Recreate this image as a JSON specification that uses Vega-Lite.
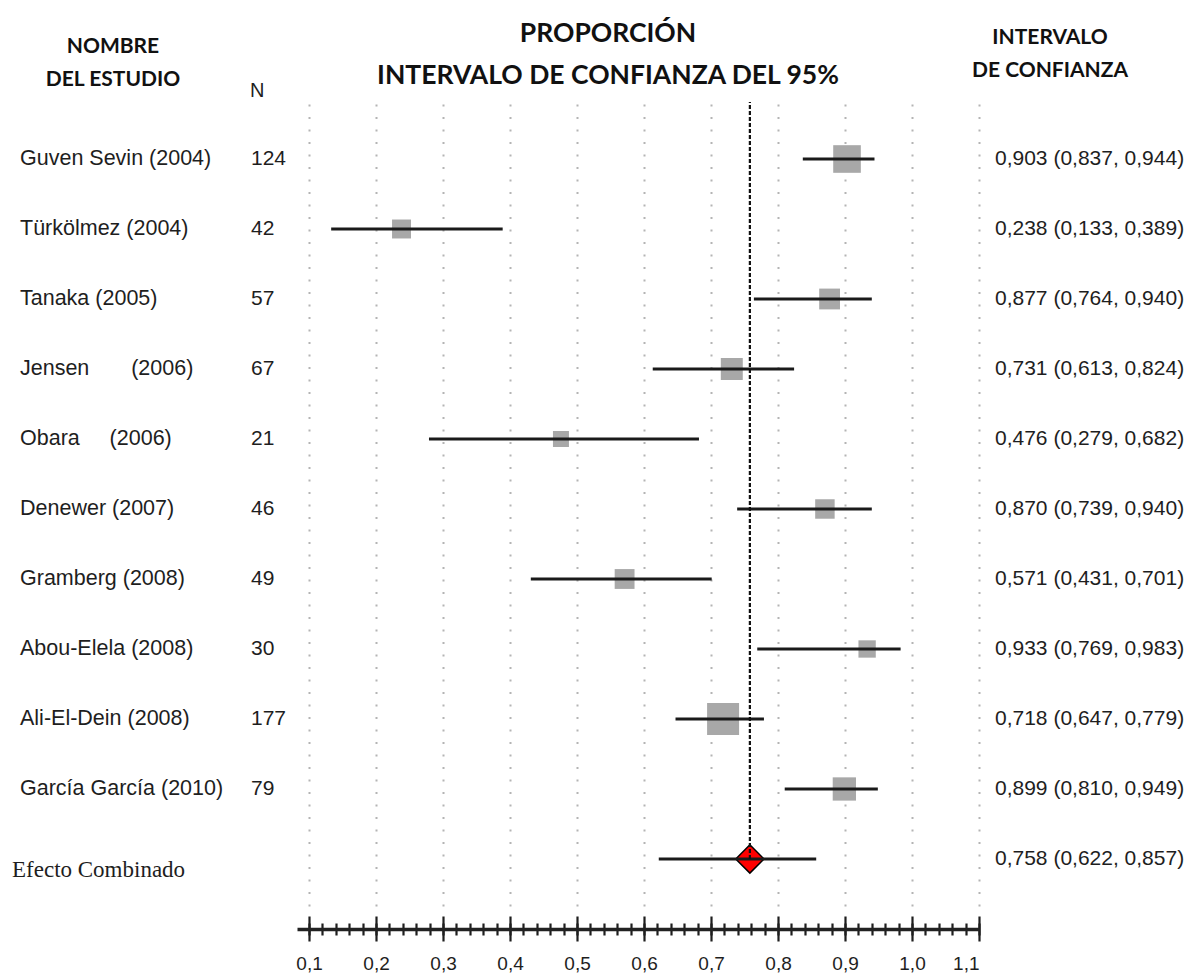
{
  "$schema": "https://vega.github.io/schema/vega-lite/v6.json",
  "padding": {"left": 0, "top": 21, "right": 0, "bottom": 0},
  "autosize": {"type": "pad"},
  "bounds": "flush",
  "spacing": 0,
  "config": {"view": {"stroke": null}, "concat": {"spacing": 0}},
  "datasets": {
    "forest": [
      {"study": "Guven Sevin (2004)", "N": 124, "p": 0.903, "lo": 0.837, "hi": 0.944, "ic": "0,903 (0,837, 0,944)", "tipo": "estudio"},
      {"study": "Türkölmez (2004)", "N": 42, "p": 0.238, "lo": 0.133, "hi": 0.389, "ic": "0,238 (0,133, 0,389)", "tipo": "estudio"},
      {"study": "Tanaka (2005)", "N": 57, "p": 0.877, "lo": 0.764, "hi": 0.940, "ic": "0,877 (0,764, 0,940)", "tipo": "estudio"},
      {"study": "Jensen\u00a0\u00a0\u00a0\u00a0\u00a0\u00a0 (2006)", "N": 67, "p": 0.731, "lo": 0.613, "hi": 0.824, "ic": "0,731 (0,613, 0,824)", "tipo": "estudio"},
      {"study": "Obara\u00a0\u00a0\u00a0\u00a0 (2006)", "N": 21, "p": 0.476, "lo": 0.279, "hi": 0.682, "ic": "0,476 (0,279, 0,682)", "tipo": "estudio"},
      {"study": "Denewer (2007)", "N": 46, "p": 0.870, "lo": 0.739, "hi": 0.940, "ic": "0,870 (0,739, 0,940)", "tipo": "estudio"},
      {"study": "Gramberg (2008)", "N": 49, "p": 0.571, "lo": 0.431, "hi": 0.701, "ic": "0,571 (0,431, 0,701)", "tipo": "estudio"},
      {"study": "Abou-Elela (2008)", "N": 30, "p": 0.933, "lo": 0.769, "hi": 0.983, "ic": "0,933 (0,769, 0,983)", "tipo": "estudio"},
      {"study": "Ali-El-Dein (2008)", "N": 177, "p": 0.718, "lo": 0.647, "hi": 0.779, "ic": "0,718 (0,647, 0,779)", "tipo": "estudio"},
      {"study": "García García (2010)", "N": 79, "p": 0.899, "lo": 0.810, "hi": 0.949, "ic": "0,899 (0,810, 0,949)", "tipo": "estudio"},
      {"study": "Efecto Combinado", "N": null, "p": 0.758, "lo": 0.622, "hi": 0.857, "ic": "0,758 (0,622, 0,857)", "tipo": "combinado"}
    ]
  },
  "data": {"name": "forest"},
  "resolve": {"scale": {"x": "independent", "y": "shared"}},
  "hconcat": [
    {
      "width": 245,
      "height": 804,
      "title": {"text": ["NOMBRE", "DEL ESTUDIO"], "font": "Lato", "fontSize": 21, "fontWeight": "bold", "lineHeight": 33, "offset": 12, "anchor": "middle", "frame": "group", "dx": -9.5, "color": "#111111"},
      "layer": [
        {
          "transform": [{"filter": "datum.tipo == 'estudio'"}],
          "mark": {"type": "text", "align": "left", "baseline": "middle", "font": "Liberation Sans", "fontSize": 21.5, "color": "#1e1e1e"},
          "encoding": {
            "x": {"datum": "nombre", "type": "nominal", "scale": {"type": "point", "domain": ["nombre"], "range": [20, 20]}, "axis": null},
            "y": {"field": "study", "type": "nominal", "scale": {"type": "point", "domain": ["Guven Sevin (2004)", "Türkölmez (2004)", "Tanaka (2005)", "Jensen\u00a0\u00a0\u00a0\u00a0\u00a0\u00a0 (2006)", "Obara\u00a0\u00a0\u00a0\u00a0 (2006)", "Denewer (2007)", "Gramberg (2008)", "Abou-Elela (2008)", "Ali-El-Dein (2008)", "García García (2010)", "Efecto Combinado"], "padding": 0.743, "align": 0.548}, "axis": null},
            "text": {"field": "study"}
          }
        },
        {
          "transform": [{"filter": "datum.tipo == 'combinado'"}],
          "mark": {"type": "text", "align": "left", "baseline": "middle", "font": "Liberation Serif", "fontSize": 23, "color": "#1e1e1e", "dx": -8, "dy": 11},
          "encoding": {
            "x": {"datum": "nombre", "type": "nominal", "scale": {"type": "point", "domain": ["nombre"], "range": [20, 20]}, "axis": null},
            "y": {"field": "study", "type": "nominal", "axis": null},
            "text": {"field": "study"}
          }
        }
      ]
    },
    {
      "width": 52,
      "height": 804,
      "title": {"text": "N", "font": "Liberation Sans", "fontSize": 20, "fontWeight": "normal", "offset": 1, "anchor": "start", "frame": "group", "dx": 5, "color": "#1e1e1e"},
      "transform": [{"filter": "datum.tipo == 'estudio'"}],
      "mark": {"type": "text", "align": "left", "baseline": "middle", "font": "Liberation Sans", "fontSize": 21, "color": "#1e1e1e"},
      "encoding": {
        "x": {"datum": "n", "type": "nominal", "scale": {"type": "point", "domain": ["n"], "range": [6, 6]}, "axis": null},
        "y": {"field": "study", "type": "nominal", "axis": null},
        "text": {"field": "N", "type": "quantitative"}
      }
    },
    {
      "width": 682,
      "height": 804,
      "title": {"text": ["PROPORCIÓN", "INTERVALO DE CONFIANZA DEL 95%"], "font": "Lato", "fontSize": 26.5, "fontWeight": "bold", "lineHeight": 42, "offset": 11, "anchor": "middle", "frame": "group", "dx": -30, "color": "#111111"},
      "resolve": {"axis": {"x": "independent"}},
      "layer": [
        {
          "transform": [{"filter": "datum.tipo == 'estudio'"}],
          "mark": {"type": "square", "filled": true, "color": "#a8a8a8", "opacity": 1},
          "encoding": {
            "x": {"field": "p", "type": "quantitative", "scale": {"domain": [0.082, 1.1], "nice": false, "zero": false},
              "axis": {"orient": "bottom", "values": [0.1, 0.2, 0.3, 0.4, 0.5, 0.6, 0.7, 0.8, 0.9, 1.0, 1.1], "grid": true, "gridDash": [2, 10.5], "gridColor": "#b4b4b4", "gridWidth": 2, "domain": false, "ticks": false, "labels": false, "title": null}},
            "y": {"field": "study", "type": "nominal", "axis": null},
            "size": {"field": "N", "type": "quantitative", "scale": {"domain": [21, 177], "range": [256, 1024]}, "legend": null}
          }
        },
        {
          "transform": [{"filter": "datum.tipo == 'estudio'"}],
          "mark": {"type": "rule", "strokeWidth": 2.8, "color": "#1a1a1a"},
          "encoding": {
            "x": {"field": "lo", "type": "quantitative",
              "axis": {"orient": "bottom", "values": [0.1, 0.2, 0.3, 0.4, 0.5, 0.6, 0.7, 0.8, 0.9, 1.0, 1.1], "grid": false, "domain": false, "ticks": true, "tickSize": 25, "tickWidth": 2.2, "tickColor": "#1e1e1e", "offset": 10, "labels": true, "labelFont": "Liberation Sans", "labelFontSize": 19, "labelColor": "#1e1e1e", "labelPadding": 13, "labelExpr": "replace(format(datum.value, '.1f'), '.', ',')", "title": null}},
            "x2": {"field": "hi"},
            "y": {"field": "study", "type": "nominal", "axis": null}
          }
        },
        {
          "transform": [{"filter": "datum.tipo == 'combinado'"}],
          "mark": {"type": "point", "shape": "diamond", "filled": true, "fill": "#ff0000", "stroke": "#000000", "strokeWidth": 1.5, "size": 800, "opacity": 1},
          "encoding": {
            "x": {"field": "p", "type": "quantitative",
              "axis": {"orient": "bottom", "values": [0.1, 0.12, 0.14, 0.16, 0.18, 0.2, 0.22, 0.24, 0.26, 0.28, 0.3, 0.32, 0.34, 0.36, 0.38, 0.4, 0.42, 0.44, 0.46, 0.48, 0.5, 0.52, 0.54, 0.56, 0.58, 0.6, 0.62, 0.64, 0.66, 0.68, 0.7, 0.72, 0.74, 0.76, 0.78, 0.8, 0.82, 0.84, 0.86, 0.88, 0.9, 0.92, 0.94, 0.96, 0.98, 1.0, 1.02, 1.04, 1.06, 1.08, 1.1], "grid": false, "domain": false, "ticks": true, "tickSize": 12, "tickWidth": 2.2, "tickColor": "#1e1e1e", "offset": 17, "labels": false, "title": null}},
            "y": {"field": "study", "type": "nominal", "axis": null}
          }
        },
        {
          "transform": [{"filter": "datum.tipo == 'combinado'"}],
          "mark": {"type": "rule", "strokeWidth": 2.8, "color": "#1a1a1a"},
          "encoding": {
            "x": {"field": "lo", "type": "quantitative",
              "axis": {"orient": "bottom", "grid": false, "domain": true, "domainWidth": 3.5, "domainColor": "#222222", "ticks": false, "labels": false, "offset": 23, "title": null}},
            "x2": {"field": "hi"},
            "y": {"field": "study", "type": "nominal", "axis": null}
          }
        },
        {
          "transform": [{"filter": "datum.tipo == 'combinado'"}],
          "mark": {"type": "rule", "strokeWidth": 2.2, "strokeDash": [4, 2], "color": "#111111"},
          "encoding": {
            "x": {"field": "p", "type": "quantitative", "axis": null},
            "y": {"field": "study", "type": "nominal", "axis": null},
            "y2": {"value": 0}
          }
        }
      ]
    },
    {
      "width": 208,
      "height": 804,
      "title": {"text": ["INTERVALO", "DE CONFIANZA"], "font": "Lato", "fontSize": 21, "fontWeight": "bold", "lineHeight": 33, "offset": 21, "anchor": "middle", "frame": "group", "dx": -33, "color": "#111111"},
      "mark": {"type": "text", "align": "left", "baseline": "middle", "font": "Liberation Sans", "fontSize": 21, "color": "#1e1e1e"},
      "encoding": {
        "x": {"datum": "ic", "type": "nominal", "scale": {"type": "point", "domain": ["ic"], "range": [16, 16]}, "axis": null},
        "y": {"field": "study", "type": "nominal", "axis": null},
        "text": {"field": "ic"}
      }
    }
  ]
}
